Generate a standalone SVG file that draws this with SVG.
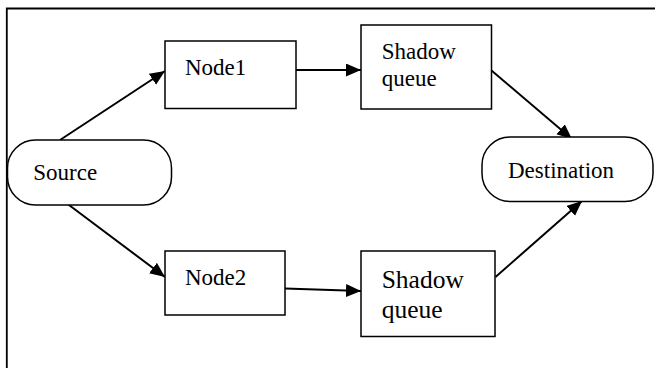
<svg xmlns="http://www.w3.org/2000/svg" width="655" height="368" viewBox="0 0 655 368">
<style>
.box{fill:#fff;stroke:#000;stroke-width:1.5}
.t{font-family:"Liberation Serif","Times New Roman",serif;font-size:23px;fill:#000}
.c{stroke:#000;stroke-width:2;fill:none;marker-end:url(#ah)}
</style>
<defs>
<marker id="ah" markerUnits="userSpaceOnUse" markerWidth="16" markerHeight="14" refX="15" refY="6.5" orient="auto">
<path d="M0,0 L15,6.5 L0,13 Z" fill="#000"/>
</marker>
</defs>
<rect width="655" height="368" fill="#fff"/>
<g id="frame">
<path d="M6.8,368 V8.5 H655" fill="none" stroke="#000" stroke-width="1.8"/>
</g>
<g id="connectors">
<line class="c" x1="60" y1="140" x2="165" y2="71"/>
<line class="c" x1="296" y1="70" x2="361" y2="70"/>
<line class="c" x1="491.5" y1="70.5" x2="572" y2="139"/>
<line class="c" x1="61" y1="199" x2="165" y2="277"/>
<line class="c" x1="285" y1="288.5" x2="361" y2="291"/>
<line class="c" x1="495.5" y1="277" x2="582" y2="201"/>
</g>
<g id="source">
<rect class="box" x="7.5" y="140" width="164" height="65" rx="28" ry="28"/>
<text class="t" x="33.3" y="180">Source</text>
</g>
<g id="node1">
<rect class="box" x="165" y="41" width="131" height="67.5"/>
<text class="t" x="185" y="75">Node1</text>
</g>
<g id="shadow1">
<rect class="box" x="361" y="25" width="130.5" height="84"/>
<text class="t" x="381.7" y="59.3">Shadow</text>
<text class="t" x="381.7" y="85.5">queue</text>
</g>
<g id="destination">
<rect class="box" x="482" y="137" width="171" height="64.5" rx="28" ry="28"/>
<text class="t" x="508" y="178.3">Destination</text>
</g>
<g id="node2">
<rect class="box" x="165" y="251" width="120" height="64"/>
<text class="t" x="185" y="285">Node2</text>
</g>
<g id="shadow2">
<rect class="box" x="361" y="251" width="134" height="85.5"/>
<text class="t" x="381.7" y="287.7" style="font-size:25.5px">Shadow</text>
<text class="t" x="381.7" y="318.3" style="font-size:25.5px">queue</text>
</g>
</svg>
